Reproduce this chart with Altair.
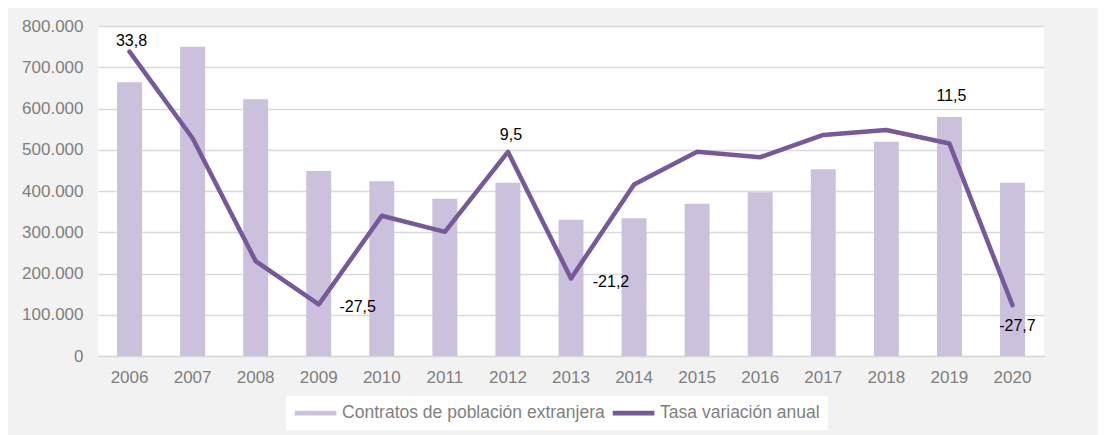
import altair as alt
import pandas as pd

years = [str(y) for y in range(2006, 2021)]
contratos = [663500, 749800, 622300, 448500, 423500, 381400, 420200, 330400,
             333800, 369300, 396800, 452500, 519600, 579400, 420200]
tasa = [33.8, 12.8, -17.0, -27.5, -6.0, -9.9, 9.5, -21.2,
        1.6, 9.5, 8.2, 13.6, 14.8, 11.5, -27.7]
label_years = ["2006", "2009", "2012", "2013", "2019", "2020"]
label_texts = ["33,8", "-27,5", "9,5", "-21,2", "11,5", "-27,7"]
series_names = ["Contratos de población extranjera", "Tasa variación anual"]

# label placement offsets (style only)
label_offsets = [(2, -11), (39, 3), (3, -17), (40, 4), (2, -48), (5, 21)]

BAR_COLOR = "#cbc1dc"
LINE_COLOR = "#76599b"
AXIS_GRAY = "#7f7f7f"
FONT = "Liberation Sans"

df = pd.DataFrame({"year": years, "contratos": contratos, "tasa": tasa,
                   "serie": series_names[0]})

x_enc = alt.X("year:N", sort=years, title=None,
              scale=alt.Scale(paddingInner=0.604, paddingOuter=0.302),
              axis=alt.Axis(ticks=False, domain=True, domainColor="#d9d9d9",
                            domainWidth=1.5, labelAngle=0, labelPadding=13,
                            labelFontSize=17, labelColor=AXIS_GRAY, labelFont=FONT))

bars = alt.Chart(df).mark_bar().encode(
    x=x_enc,
    y=alt.Y("contratos:Q", title=None,
            scale=alt.Scale(domain=[0, 800000], nice=False),
            axis=alt.Axis(orient="left", values=list(range(0, 800001, 100000)),
                          labelExpr="replace(format(datum.value, ',.0f'), ',', '.')",
                          ticks=False, domain=False, grid=True, gridColor="#d9d9d9",
                          gridWidth=1.5, labelPadding=15, labelFontSize=17,
                          labelColor=AXIS_GRAY, labelFont=FONT)),
    color=alt.Color("serie:N",
                    scale=alt.Scale(domain=series_names, range=[BAR_COLOR, LINE_COLOR]),
                    legend=alt.Legend(title=None, orient="none", legendX=188, legendY=370,
                                      direction="horizontal", columns=2,
                                      symbolType="M-1,-0.3H4.2V0.3H-1Z", symbolSize=256,
                                      symbolStrokeWidth=0, labelFontSize=17.5,
                                      labelColor=AXIS_GRAY, labelFont=FONT, labelLimit=0,
                                      labelOffset=30.6, columnPadding=7,
                                      fillColor="white", padding=8)),
)

rate_scale = alt.Scale(domain=[-40, 40], nice=False)

line = alt.Chart(df).mark_line(strokeWidth=4.5, strokeCap="round", strokeJoin="round",
                               color=LINE_COLOR).encode(
    x=alt.X("year:N", sort=years),
    y=alt.Y("tasa:Q", title=None, scale=rate_scale,
            axis=alt.Axis(orient="right", values=list(range(-40, 41, 10)),
                          labelExpr="datum.value + ''", ticks=False, domain=False,
                          grid=False, labelPadding=17, labelFontSize=17,
                          labelColor=AXIS_GRAY, labelFont=FONT)),
)

text_layers = []
for yr, txt, (ddx, ddy) in zip(label_years, label_texts, label_offsets):
    i = years.index(yr)
    tdf = pd.DataFrame({"year": [yr], "tasa": [tasa[i]], "label": [txt]})
    text_layers.append(
        alt.Chart(tdf).mark_text(dx=ddx, dy=ddy, fontSize=16, color="black",
                                 font=FONT, align="center", baseline="middle").encode(
            x=alt.X("year:N", sort=years),
            y=alt.Y("tasa:Q", scale=rate_scale, axis=None),
            text="label:N",
        )
    )

rate_layer = alt.layer(line, *text_layers)

chart = alt.layer(bars, rate_layer).resolve_scale(y="independent").properties(
    width=946, height=330,
    autosize=alt.AutoSizeParams(type="none"),
    padding={"left": 90, "top": 18, "right": 54, "bottom": 79},
    background="#f2f2f2",
).configure_view(stroke=None, fill="white")

chart.save("out.html", embed_options={"renderer": "svg", "actions": False})
